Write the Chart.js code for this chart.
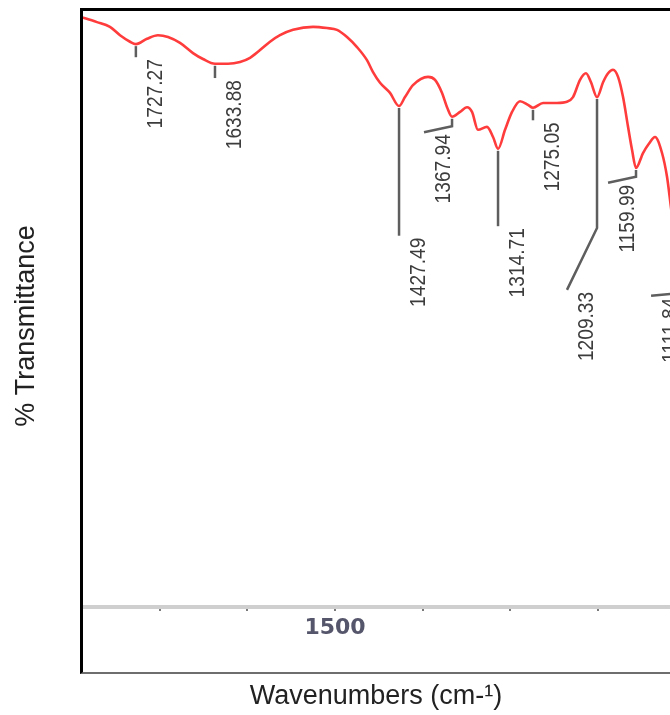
<!DOCTYPE html>
<html>
<head>
<meta charset="utf-8">
<script src="https://cdn.jsdelivr.net/npm/chart.js@4.4.1/dist/chart.umd.min.js"></script>
<style>
  html, body { margin: 0; padding: 0; background: #fff; overflow: hidden; }
  #caixa { position: relative; width: 670px; height: 715px; }
  #espectro { display: block; }
  #moldura {
    position: absolute; left: 80px; top: 8px; width: 620px; height: 661px;
    border-left: 3px solid #000; border-top: 3px solid #000; border-bottom: 2px solid #6e6e6e;
    pointer-events: none;
  }
</style>
</head>
<body>
<div id="caixa">
  <canvas id="espectro" width="670" height="715"></canvas>
  <div id="moldura"></div>
</div>
<script>
// espectro (cm-1 / %T)
const numeros_onda = [
  1793.4, 1771.7, 1756.9, 1745.4, 1734.0, 1727.3, 1714.6, 1702.1, 1690.6, 1676.9,
  1662.1, 1650.7, 1637.0, 1622.1, 1608.4, 1597.0, 1585.6, 1574.2, 1562.8, 1547.9,
  1525.1, 1509.1, 1497.7, 1486.3, 1474.9, 1463.5, 1456.6, 1448.6, 1437.2, 1426.9,
  1420.1, 1411.0, 1393.8, 1385.8, 1377.8, 1372.1, 1366.4, 1357.3, 1349.3, 1343.6,
  1336.8, 1326.5, 1319.6, 1313.9, 1305.9, 1297.9, 1288.8, 1279.7, 1274.0, 1262.5,
  1246.6, 1235.2, 1228.3, 1220.3, 1213.5, 1207.8, 1200.9, 1194.0, 1188.3, 1182.6,
  1176.9, 1171.2, 1165.5, 1160.9, 1156.4, 1148.4, 1141.5, 1134.7, 1126.7, 1121.0,
  1115.3, 1106.1, 1099.3
];
const transmitancia = [
  99.3, 98.3, 97.5, 96.1, 95.0, 94.6, 95.5, 96.1, 95.8, 94.8,
  93.1, 92.1, 91.3, 91.3, 91.6, 92.3, 93.6, 95.0, 96.1, 97.0,
  97.5, 97.3, 97.0, 95.8, 94.1, 91.9, 89.9, 88.1, 86.4, 84.2,
  85.7, 87.7, 89.1, 88.6, 86.4, 84.0, 82.4, 83.2, 84.0, 83.2,
  80.2, 80.7, 79.0, 77.0, 80.2, 83.2, 85.0, 84.4, 83.9, 84.7,
  84.7, 84.9, 85.7, 88.6, 89.7, 88.2, 85.7, 88.2, 89.7, 90.3,
  89.1, 85.7, 80.7, 76.8, 73.8, 76.3, 77.9, 79.0, 76.3, 72.3,
  65.9, 58.3, 53.3
];

// picos marcados
const picos_onda   = [1727.3, 1637.0, 1426.9, 1366.4, 1313.9, 1274.0, 1200.9, 1156.4, 1099.3];
const picos_texto  = ['1727.27', '1633.88', '1427.49', '1367.94', '1314.71', '1275.05', '1209.33', '1159.99', '1111.84'];
const picos_dobra_t = [92.4, 88.9, 62.4, 80.8, 64.0, 81.8, 63.7, 72.3, 52.9];
const picos_ponta_onda = [1727.3, 1637.0, 1426.9, 1398.4, 1313.9, 1274.0, 1235.2, 1188.3, 1139.2];
const picos_ponta_t = [92.4, 88.9, 62.4, 79.8, 64.0, 81.8, 53.3, 71.3, 52.3];

const ticks_rotulados = [1500];
const titulo_x = 'Wavenumbers (cm-\u00B9)';
const titulo_y = '% Transmittance';

const fonte_titulo = '"Liberation Sans", Arial, sans-serif';

const plugin_picos = {
  id: 'picos',
  afterDatasetsDraw(chart) {
    const ctx = chart.ctx;
    const xs = chart.scales.x;
    const ys = chart.scales.y;
    ctx.save();
    for (let i = 0; i < picos_onda.length; i++) {
      // ponto da curva mais proximo do pico
      let k = 0;
      for (let j = 1; j < numeros_onda.length; j++) {
        if (Math.abs(numeros_onda[j] - picos_onda[i]) < Math.abs(numeros_onda[k] - picos_onda[i])) k = j;
      }
      const x0 = xs.getPixelForValue(picos_onda[i]);
      const y0 = ys.getPixelForValue(transmitancia[k]) + 2;
      const y1 = ys.getPixelForValue(picos_dobra_t[i]);
      const x2 = xs.getPixelForValue(picos_ponta_onda[i]);
      const y2 = ys.getPixelForValue(picos_ponta_t[i]);

      ctx.strokeStyle = '#5e5e5e';
      ctx.lineWidth = 2.5;
      ctx.beginPath();
      ctx.moveTo(x0, y0);
      ctx.lineTo(x0, y1);
      ctx.lineTo(x2, y2);
      ctx.stroke();

      ctx.save();
      ctx.translate(x2 + 20, y2 + 2);
      ctx.rotate(-Math.PI / 2);
      ctx.scale(0.87, 1);
      ctx.font = '22px ' + fonte_titulo;
      ctx.fillStyle = '#3c3c3c';
      ctx.textAlign = 'right';
      ctx.textBaseline = 'middle';
      ctx.fillText(picos_texto[i], 0, 0);
      ctx.restore();
    }
    ctx.restore();
  },
  afterDraw(chart) {
    const ctx = chart.ctx;
    ctx.save();
    ctx.translate(27, 326);
    ctx.rotate(-Math.PI / 2);
    ctx.font = '27px ' + fonte_titulo;
    ctx.fillStyle = '#222';
    ctx.textAlign = 'center';
    ctx.textBaseline = 'middle';
    ctx.fillText(titulo_y, 0, 0);
    ctx.restore();
  }
};

function montar_espectro() {
  const ctx = document.getElementById('espectro');
  const pontos = numeros_onda.map((w, i) => ({ x: w, y: transmitancia[i] }));
  new Chart(ctx, {
    type: 'line',
    data: {
      datasets: [{
        data: pontos,
        borderColor: '#ff3c3c',
        borderWidth: 2.6,
        pointRadius: 0,
        cubicInterpolationMode: 'monotone',
        fill: false
      }]
    },
    options: {
      responsive: false,
      animation: false,
      devicePixelRatio: 1,
      layout: { padding: { left: 82, top: 12, right: 0, bottom: 0 } },
      plugins: { legend: { display: false }, tooltip: { enabled: false } },
      scales: {
        x: {
          type: 'linear',
          reverse: true,
          min: 1117.6,
          max: 1788.8,
          grid: { drawOnChartArea: false, drawTicks: true, tickLength: 4, color: '#7a7a7a', lineWidth: 2 },
          border: { display: true, color: '#cfcfcf', width: 4 },
          ticks: {
            stepSize: 100,
            includeBounds: false,
            autoSkip: false,
            maxRotation: 0,
            padding: 4,
            color: '#55556b',
            font: { family: '"DejaVu Sans", sans-serif', size: 22, weight: 'bold' },
            callback: (v) => ticks_rotulados.includes(v) ? String(v) : ''
          },
          title: {
            display: true,
            text: titulo_x,
            color: '#222',
            font: { family: fonte_titulo, size: 27 },
            padding: { top: 35.4, bottom: 1.8 }
          }
        },
        y: {
          display: false,
          min: 0,
          max: 100
        }
      }
    },
    plugins: [plugin_picos]
  });
}
montar_espectro();
</script>
</body>
</html>
